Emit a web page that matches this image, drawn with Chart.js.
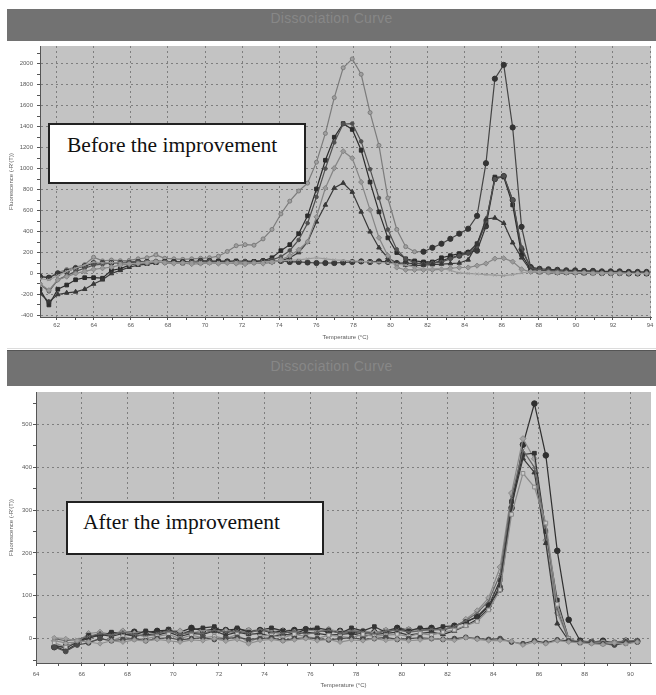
<!DOCTYPE html>
<html><head><meta charset="utf-8">
<script src="https://cdn.jsdelivr.net/npm/chart.js@4.4.1/dist/chart.umd.min.js"></script>
<style>
html,body{margin:0;padding:0;background:#fff;width:656px;height:695px;overflow:hidden;position:relative;}
.bar{position:absolute;left:7px;width:649px;background:#727272;color:#878787;font:14px "Liberation Sans",Arial,sans-serif;text-align:center;letter-spacing:0.3px;line-height:18px;}
.sep{position:absolute;left:7px;width:649px;height:1px;background:#dcdcdc;}
.note{position:absolute;background:#fff;border:2px solid #222;box-sizing:border-box;}
.note span{position:absolute;white-space:nowrap;font-family:"Liberation Serif","Times New Roman",serif;font-size:21.5px;line-height:21.5px;color:#111;}
canvas{position:absolute;left:0;}
</style></head>
<body>
<div class="bar" style="top:9px;height:32px;">Dissociation Curve</div>
<canvas id="c1" width="656" height="304" style="top:41px;width:656px;height:304px;"></canvas>
<div class="sep" style="top:348px;"></div>
<div class="bar" style="top:350px;height:36px;border-top:1px solid #555;box-sizing:border-box;padding-top:6px;">Dissociation Curve</div>
<canvas id="c2" width="656" height="308" style="top:387px;width:656px;height:308px;"></canvas>
<div class="note" style="left:48px;top:123px;width:258px;height:61px;"><span style="left:17px;top:10px;">Before the improvement</span></div>
<div class="note" style="left:66px;top:501px;width:258px;height:54px;"><span style="left:15px;top:9px;">After the improvement</span></div>
<script>
// ---------- Top chart data (before the improvement) ----------
const tempsBefore = [61.10,61.58,62.06,62.54,63.02,63.51,63.99,64.47,64.95,65.43,65.91,66.39,66.87,67.35,67.83,68.32,68.80,69.28,69.76,70.24,70.72,71.20,71.68,72.16,72.64,73.13,73.61,74.09,74.57,75.05,75.53,76.01,76.49,76.97,77.45,77.94,78.42,78.90,79.38,79.86,80.34,80.82,81.30,81.78,82.26,82.75,83.23,83.71,84.19,84.67,85.15,85.63,86.11,86.59,87.07,87.56,88.04,88.52,89.00,89.48,89.96,90.44,90.92,91.40,91.88,92.36,92.85,93.33,93.81];
const beforeA = [-28,-38,10,38,60,85,155,120,128,122,125,140,150,178,145,140,135,140,145,150,165,210,265,275,270,330,420,568,690,787,862,1062,1336,1677,1962,2047,1900,1535,1222,720,420,256,208,208,246,284,331,380,427,550,1052,1858,1990,1393,445,60,30,25,20,15,15,10,10,5,5,5,0,0,0];
const beforeB = [-150,-300,-150,-110,-60,-40,-40,-45,30,45,80,95,100,110,115,110,100,110,105,110,120,115,120,110,115,120,150,218,275,379,550,806,1080,1300,1430,1374,1175,872,588,340,200,140,120,110,110,150,170,190,200,284,483,920,920,654,180,40,30,25,20,15,15,10,10,10,5,5,5,0,0];
const beforeC = [-190,-270,-200,-185,-175,-150,-100,-60,0,30,60,80,90,100,110,110,105,110,100,105,110,110,105,100,110,115,110,120,150,200,300,493,654,815,863,777,588,398,246,150,100,80,75,80,85,90,95,100,130,280,520,530,480,294,150,30,10,10,5,5,5,0,0,0,0,0,0,0,0];
const beforeD = [-100,-160,-60,-30,0,20,40,50,60,80,90,95,100,110,100,95,100,90,95,100,95,100,95,90,100,95,105,130,170,227,303,540,815,1005,1166,1100,872,607,341,170,57,35,35,35,35,40,50,57,57,75,95,142,145,113,40,15,10,10,5,5,5,5,0,0,0,0,0,0,0];
const beforeE = [-100,-170,-60,-20,20,50,80,90,100,105,110,115,110,120,115,110,105,110,115,120,110,115,110,120,115,120,130,160,220,320,480,730,1000,1250,1425,1430,1260,995,720,420,230,140,100,90,100,110,140,170,190,260,500,900,930,700,250,50,35,30,25,20,20,15,15,10,10,10,5,5,5];
const beforeF = [-30,-40,0,20,50,70,100,100,100,100,100,110,110,110,110,110,110,110,120,120,110,115,110,110,110,120,115,120,110,110,105,100,100,100,105,110,115,110,115,110,100,100,95,100,100,120,150,170,200,218,450,900,930,700,230,60,45,40,35,30,30,25,25,20,20,20,15,15,15];
const beforeG = [-50,-60,-20,20,50,80,110,100,105,100,95,100,110,120,110,105,100,110,105,100,105,100,110,105,100,110,115,120,125,130,140,150,140,130,125,120,115,110,105,100,90,80,60,45,45,50,30,5,0,-5,-10,-15,-20,-10,5,20,20,15,15,10,10,10,5,5,5,5,0,0,0];

// ---------- Bottom chart data (after the improvement) ----------
const tempsAfter = [64.8,65.3,65.8,66.3,66.8,67.3,67.8,68.3,68.8,69.3,69.8,70.3,70.8,71.3,71.8,72.3,72.8,73.3,73.8,74.3,74.8,75.3,75.8,76.3,76.8,77.3,77.8,78.3,78.8,79.3,79.8,80.3,80.8,81.3,81.8,82.3,82.8,83.3,83.8,84.3,84.8,85.3,85.8,86.3,86.8,87.3,87.8,88.3,88.8,89.3,89.8,90.3];
const afterP1 = [-20,-18,-10,5,8,12,15,16,14,18,20,15,25,18,22,20,22,18,20,14,18,20,22,20,15,18,14,12,15,18,25,20,22,25,20,30,38,52,78,115,305,453,549,428,205,44,-5,-8,-5,-10,-5,-6];
const afterP2 = [-5,-10,-8,12,15,10,18,12,15,10,20,18,12,20,15,18,12,20,15,22,18,15,20,18,22,16,20,18,14,20,18,22,20,18,24,25,45,65,95,167,340,467,420,230,60,-2,-8,-8,-10,-8,-5,-5];
const afterP3 = [-18,-28,-12,8,5,15,10,8,18,12,22,8,20,25,28,12,25,15,20,25,18,10,22,25,20,12,25,18,28,15,22,18,25,20,28,30,40,50,75,137,320,430,433,250,90,0,-10,-8,-12,-10,-8,-6];
const afterP4 = [-15,-22,-8,0,10,5,12,5,10,8,15,5,12,10,18,8,15,10,12,5,10,8,15,12,8,10,12,5,10,12,15,8,12,15,10,18,30,45,70,125,310,421,388,223,35,-5,-8,-10,-8,-12,-8,-6];
const afterP5 = [-10,-20,-5,-8,0,-5,5,-2,0,5,10,0,8,2,5,0,10,-10,5,8,2,10,5,0,8,5,2,10,5,8,10,5,12,8,15,20,30,40,67,114,290,386,354,270,80,0,-8,-10,-8,-10,-12,-8];
const afterP6 = [0,-5,-2,5,12,8,15,10,5,12,18,10,15,12,20,15,18,12,22,15,12,18,10,15,20,12,18,15,10,18,20,15,18,22,20,28,42,60,88,150,330,440,400,260,70,-5,-8,-6,-10,-8,-6,-5];
const afterN1 = [-20,-30,-15,-10,0,-5,-2,0,-5,0,2,-3,0,2,-2,0,3,-2,0,2,-4,0,2,0,-3,0,2,-2,0,3,-2,0,2,0,-2,0,3,0,-2,0,-8,-12,-5,-10,-3,-5,-8,-10,-12,-15,-10,-8];
const afterN2 = [2,0,-5,-8,-12,-5,-8,-3,-6,-2,-5,-8,-3,-5,0,-6,-2,-12,-4,-2,-6,-3,0,-5,-2,-8,-3,-5,0,-4,-2,-5,-3,0,-2,-4,2,-2,-5,-4,-6,-15,-8,-12,-5,-8,-10,-12,-14,-10,-12,-8];

const xTitle = 'Temperature (°C)';
const yTitle = "Fluorescence (-R'(T))";

const plotBg = {id:'plotBg', beforeDraw(chart){const {ctx, chartArea:a}=chart; ctx.save(); ctx.fillStyle='#c3c3c3'; ctx.fillRect(a.left,a.top,a.right-a.left,a.bottom-a.top); ctx.restore();}};

function ds(temps, vals, color, fill, style, r, darkFrom){
  const d = {data: temps.map((t,i)=>({x:t,y:vals[i]})), borderColor:color, backgroundColor:fill, pointBackgroundColor:fill, pointBorderColor:color, pointStyle:style, pointRadius:r, pointBorderWidth:1, borderWidth:1.2, tension:0, fill:false};
  if (darkFrom !== undefined) {
    d.pointBackgroundColor = c => (c.dataIndex >= darkFrom ? '#333' : fill);
    d.pointBorderColor = c => (c.dataIndex >= darkFrom ? '#333' : color);
    d.pointRadius = c => (c.dataIndex >= darkFrom ? 2.6 : r);
    d.segment = {borderColor: c => (c.p0DataIndex >= darkFrom ? '#444' : color)};
  }
  return d;
}

function makeChart(id, sets, cfg){
  return new Chart(document.getElementById(id), {
    type:'line',
    data:{datasets: sets},
    plugins:[plotBg],
    options:{
      responsive:false, animation:false, devicePixelRatio:1,
      layout:{padding:{top:3,left:0,right:1,bottom:0}},
      plugins:{legend:{display:false}, tooltip:{enabled:false}},
      scales:{
        x:{type:'linear', min:cfg.xmin, max:cfg.xmax,
          ticks:{stepSize:1, autoSkip:false, maxRotation:0, includeBounds:false, font:{size:6,family:'Liberation Sans'}, color:'#5a5a5a', padding:cfg.xpad,
            callback:v=> (Math.round(v)%2===0 ? String(v) : '')},
          grid:{color:c=> (c.tick && Math.round(c.tick.value)%2===0 ? '#7e7e7e' : 'rgba(0,0,0,0)'), lineWidth:1, tickLength:3, tickColor:'#555'},
          border:{display:true, color:'#555', width:1, dash:[2,3]},
          title:{display:true, text:xTitle, font:{size:6,family:'Liberation Sans'}, color:'#5a5a5a', padding:{top:0,bottom:cfg.xtitlePad}},
          afterFit:s=>{s.height=cfg.xh; s.paddingLeft=0; s.paddingRight=0;}
        },
        y:{type:'linear', min:cfg.ymin, max:cfg.ymax,
          ticks:{stepSize:cfg.ystep, includeBounds:false, font:{size:6,family:'Liberation Sans'}, color:'#5a5a5a', padding:cfg.ypad,
            callback:v=> (Math.round(v)%cfg.ymajor===0 ? String(v) : '')},
          grid:{color:c=> (c.tick && Math.round(c.tick.value)%cfg.ymajor===0 ? '#7e7e7e' : 'rgba(0,0,0,0)'), lineWidth:1, tickLength:3, tickColor:'#555'},
          border:{display:true, color:'#555', width:1, dash:[2,3]},
          title:{display:true, text:yTitle, font:{size:6,family:'Liberation Sans'}, color:'#5a5a5a', padding:{top:8,bottom:0}},
          afterFit:s=>{s.width=cfg.yw; s.paddingTop=0; s.paddingBottom=0;}
        }
      }
    }
  });
}

makeChart('c1', [
  ds(tempsBefore, beforeG, '#9a9a9a', '#a8a8a8', 'crossRot', 2),
  ds(tempsBefore, beforeD, '#858585', '#9a9a9a', 'rectRot', 2.6),
  ds(tempsBefore, beforeC, '#383838', '#383838', 'triangle', 2.6),
  ds(tempsBefore, beforeE, '#505050', '#505050', 'circle', 1.8),
  ds(tempsBefore, beforeB, '#2c2c2c', '#2c2c2c', 'rect', 2.6),
  ds(tempsBefore, beforeF, '#353535', '#3a3a3a', 'circle', 2.6),
  ds(tempsBefore, beforeA, '#7c7c7c', '#a0a0a0', 'circle', 2, 43)
], {xmin:61.1, xmax:94.05, xpad:1.5, xh:28, xtitlePad:4, ymin:-415, ymax:2170, ystep:100, ymajor:200, ypad:4, yw:40});

makeChart('c2', [
  ds(tempsAfter, afterN2, '#8e8e8e', '#a0a0a0', 'rectRot', 2.4),
  ds(tempsAfter, afterN1, '#4a4a4a', '#4a4a4a', 'circle', 2.4),
  ds(tempsAfter, afterP5, '#8a8a8a', '#cacaca', 'rect', 2.6),
  ds(tempsAfter, afterP6, '#666666', '#777777', 'crossRot', 2.4),
  ds(tempsAfter, afterP4, '#383838', '#383838', 'triangle', 2.8),
  ds(tempsAfter, afterP3, '#333333', '#333333', 'rect', 2.6),
  ds(tempsAfter, afterP2, '#8a8a8a', '#a5a5a5', 'rectRot', 3),
  ds(tempsAfter, afterP1, '#2f2f2f', '#2f2f2f', 'circle', 2.8)
], {xmin:64, xmax:90.9, xpad:4.5, xh:32, xtitlePad:6.4, ymin:-57, ymax:576, ystep:50, ymajor:100, ypad:1, yw:36});
</script>
</body></html>
